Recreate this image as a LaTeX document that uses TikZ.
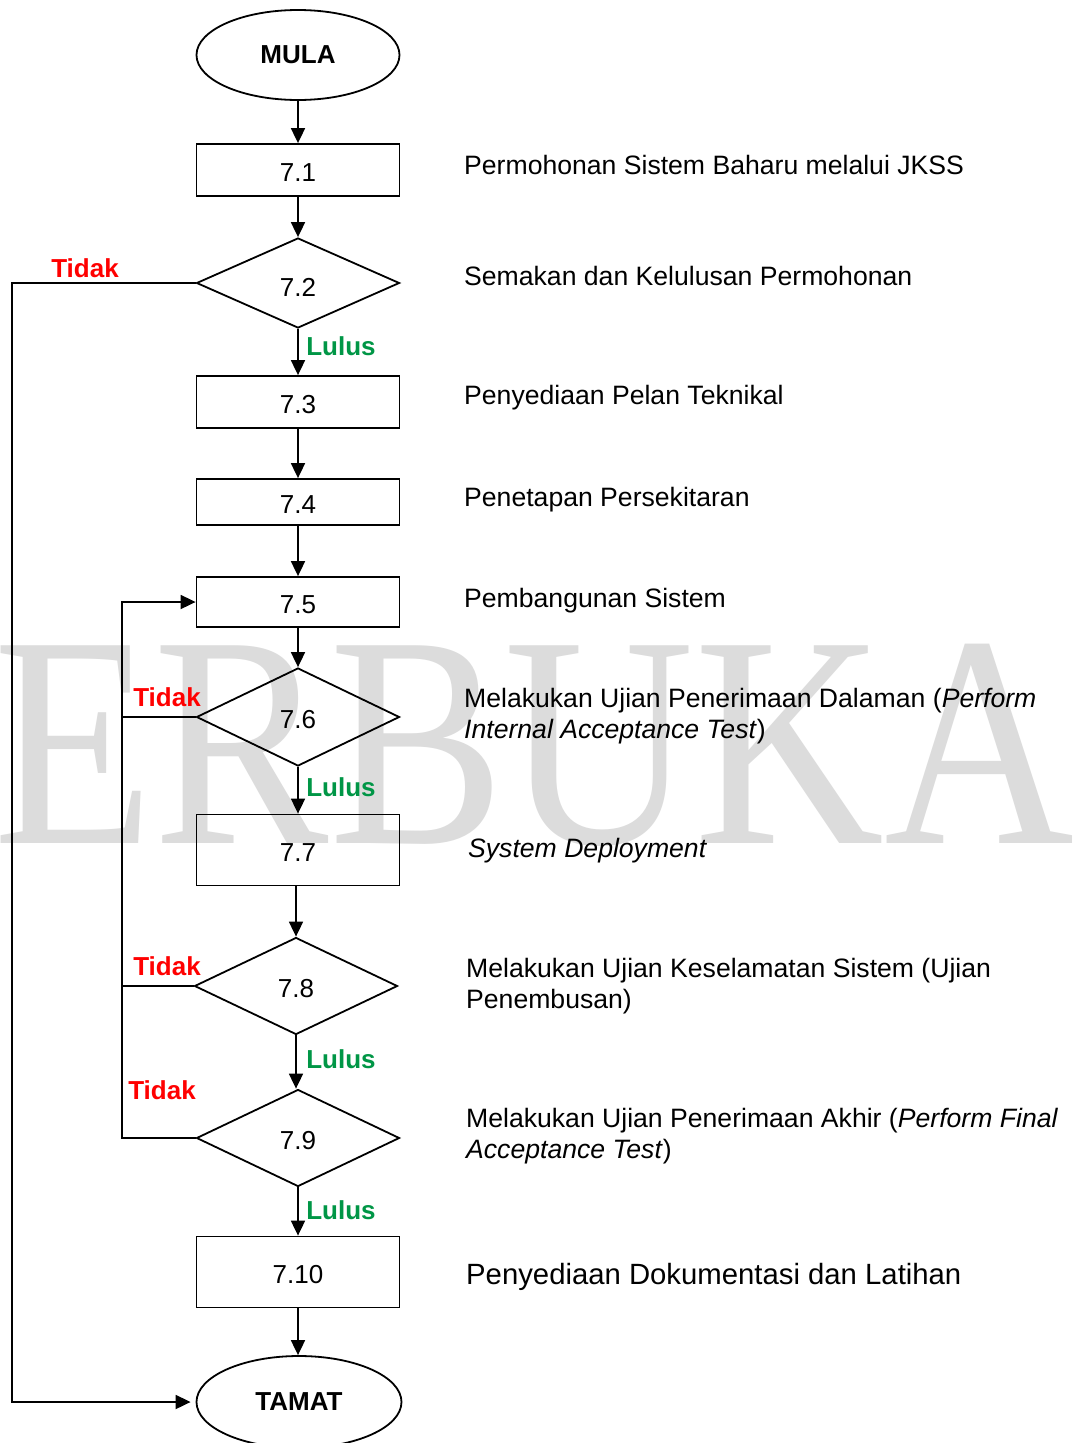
\documentclass[tikz,border=0pt]{standalone}
\usepackage{fontspec}
\setmainfont{Liberation Sans}
\newfontfamily\wmfont{Liberation Serif}
\usetikzlibrary{shapes.geometric,arrows.meta}
\definecolor{wmgray}{RGB}{220,220,220}
\definecolor{tidakred}{RGB}{255,0,0}
\definecolor{lulusgreen}{RGB}{0,150,70}
\begin{document}
\begin{tikzpicture}[x=1pt,y=-1pt,
  box/.style={draw, line width=1.8pt, minimum width=203pt, inner sep=0pt, font=\fontsize{26}{30}\selectfont},
  dia/.style={draw, diamond, line width=1.8pt, minimum width=203pt, inner sep=0pt, font=\fontsize{26}{30}\selectfont},
  term/.style={draw, ellipse, line width=1.8pt, inner sep=0pt, font=\bfseries\fontsize{26}{30}\selectfont},
  conn/.style={line width=1.8pt, -{Triangle[length=15pt,width=14pt]}},
  plainline/.style={line width=1.8pt},
  desc/.style={anchor=base west, inner sep=0pt, font=\fontsize{26.6}{31}\selectfont},
  tidak/.style={inner sep=0pt, text=tidakred, font=\bfseries\fontsize{26}{30}\selectfont},
  lulus/.style={inner sep=0pt, text=lulusgreen, font=\bfseries\fontsize{26}{30}\selectfont},
  lowlabel/.style={text height=23pt, text depth=0pt},
  lowerlabel/.style={text height=26pt, text depth=0pt}
]
\useasboundingbox (0,0) rectangle (1072,1443);
\clip (0,0) rectangle (1072,1443);
\fill[white] (0,0) rectangle (1072,1443);

% watermark
\node[anchor=base west, inner sep=0pt, text=wmgray] (wm) at (-7,843)
  {\scalebox{0.871}[1]{\wmfont\fontsize{302}{302}\selectfont ERBUKA}};

% main nodes
\node[term, minimum width=203pt, minimum height=90pt] (mula) at (298,55) {MULA};
\node[box, lowlabel, minimum height=52pt] (b1) at (298,170) {7.1};
\node[dia, lowerlabel, minimum height=90pt] (d2) at (298,283) {7.2};
\node[box, lowlabel, minimum height=52pt] (b3) at (298,402) {7.3};
\node[box, lowlabel, minimum height=46pt] (b4) at (298,502) {7.4};
\node[box, lowlabel, minimum height=50pt] (b5) at (298,602) {7.5};
\node[dia, lowlabel, minimum height=98pt] (d6) at (298,717) {7.6};
\node[box, lowlabel, minimum height=71pt] (b7) at (298,850) {7.7};
\node[dia, lowlabel, minimum height=97pt] (d8) at (296,986) {7.8};
\node[dia, lowlabel, minimum height=97pt] (d9) at (298,1138) {7.9};
\node[box, lowlabel, minimum height=71pt] (b10) at (298,1272) {7.10};
\node[term, minimum width=205pt, minimum height=92pt] (tamat) at (299,1402) {TAMAT};

\coordinate (outerx) at (12,0);
\coordinate (innerx) at (122,0);

% connectors
\draw[conn] (mula) -- (b1);
\draw[conn] (b1) -- (d2);
\draw[conn] (d2) -- (b3);
\draw[conn] (b3) -- (b4);
\draw[conn] (b4) -- (b5);
\draw[conn] (b5) -- (d6);
\draw[conn] (d6) -- (b7);
\draw[conn] (b7.south -| d8.north) -- (d8);
\draw[conn] (d8.south) -- (d8.south |- d9.north);
\draw[conn] (d9) -- (b10);
\draw[conn] (b10.south) -- (b10.south |- tamat.north);

\draw[conn] (d2.west) -- (d2.west -| outerx) |- ([xshift=-5pt]tamat.west);
\draw[plainline] (d6.west) -- (d6.west -| innerx);
\draw[plainline] (d8.west) -- (d8.west -| innerx);
\draw[conn] (d9.west) -- (d9.west -| innerx) |- (b5.west);

% branch labels
\node[tidak] (t2) at (85,268) {Tidak};
\node[tidak] (t6) at (167,697) {Tidak};
\node[tidak] (t8) at (167,966) {Tidak};
\node[tidak] (t9) at (162,1090) {Tidak};
\node[lulus] (l2) at (341,346) {Lulus};
\node[lulus] (l6) at (341,787) {Lulus};
\node[lulus] (l8) at (341,1059) {Lulus};
\node[lulus] (l9) at (341,1210) {Lulus};

% descriptions
\node[desc] (s1) at (464,174) {Permohonan Sistem Baharu melalui JKSS};
\node[desc] (s2) at (464,285) {Semakan dan Kelulusan Permohonan};
\node[desc] (s3) at (464,404) {Penyediaan Pelan Teknikal};
\node[desc] (s4) at (464,506) {Penetapan Persekitaran};
\node[desc] (s5) at (464,607) {Pembangunan Sistem};
\node[desc] (s6a) at (464,707) {Melakukan Ujian Penerimaan Dalaman (\textit{Perform}};
\node[desc] (s6b) at (464,738) {\textit{Internal Acceptance Test})};
\node[desc] (s7) at (468,857) {\textit{System Deployment}};
\node[desc] (s8a) at (466,977) {Melakukan Ujian Keselamatan Sistem (Ujian};
\node[desc] (s8b) at (466,1008) {Penembusan)};
\node[desc] (s9a) at (466,1127) {Melakukan Ujian Penerimaan Akhir (\textit{Perform Final}};
\node[desc] (s9b) at (466,1158) {\textit{Acceptance Test})};
\node[desc, font=\fontsize{29.3}{34}\selectfont] (s10) at (466,1284) {Penyediaan Dokumentasi dan Latihan};
\end{tikzpicture}
\end{document}
